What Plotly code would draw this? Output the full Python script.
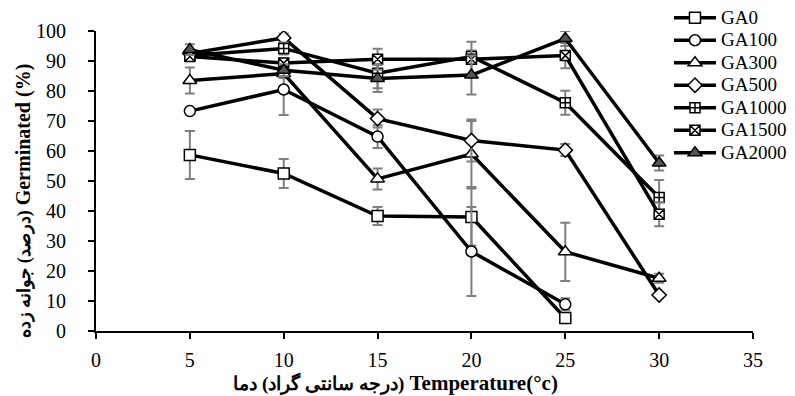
import plotly.graph_objects as go

temps = [5, 10, 15, 20, 25, 30]

series_names = ["GA0", "GA100", "GA300", "GA500", "GA1000", "GA1500", "GA2000"]

ga0 = [58.7, 52.5, 38.3, 38.0, 4.3]
ga0_err = [8.0, 4.8, 3.0, 9.5, 0.8]
ga100 = [73.3, 80.5, 64.8, 26.5, 8.9]
ga100_err = [0.8, 8.5, 3.8, 14.8, 2.0]
ga300 = [83.5, 85.8, 50.7, 59.0, 26.4, 17.6]
ga300_err = [4.3, 1.5, 3.5, 11.0, 9.7, 1.5]
ga500 = [92.5, 97.7, 70.8, 63.5, 60.3, 12.0]
ga500_err = [1.0, 1.5, 3.0, 7.0, 2.0, 0.5]
ga1000 = [91.8, 94.2, 85.9, 91.5, 76.1, 44.5]
ga1000_err = [1.0, 2.0, 5.0, 2.0, 4.0, 5.8]
ga1500 = [91.5, 89.3, 90.6, 90.6, 91.8, 38.9]
ga1500_err = [1.0, 1.5, 3.5, 5.8, 4.2, 4.0]
ga2000 = [93.8, 86.9, 84.2, 85.3, 97.5, 56.0]
ga2000_err = [1.8, 2.0, 4.5, 6.5, 2.5, 2.5]

values = [ga0, ga100, ga300, ga500, ga1000, ga1500, ga2000]
errors = [ga0_err, ga100_err, ga300_err, ga500_err, ga1000_err, ga1500_err, ga2000_err]
symbols = ["square", "circle", "triangle-up", "diamond", "square-cross", "square-x", "triangle-up"]
sizes = [11, 11, 12, 11, 10, 10, 12]
fills = ["white", "white", "white", "white", "white", "white", "#555555"]

fig = go.Figure()
for name, v, e, s, sz, fc in zip(series_names, values, errors, symbols, sizes, fills):
    fig.add_trace(go.Scatter(
        x=temps[:len(v)], y=v,
        name="<span style='font-size:19px'>" + name + "</span>",
        mode="lines+markers",
        line=dict(color="black", width=3.5),
        marker=dict(symbol=s, size=sz, color=fc, line=dict(color="black", width=1.5)),
        error_y=dict(type="data", array=e, visible=True, color="#7f7f7f", thickness=2, width=5),
    ))

serif = "Liberation Serif"
pad_x = "\u00a0" * 11
pad_y = "\u00a0" * 8
fig.update_layout(
    width=795, height=396,
    margin=dict(l=88, r=50, t=2, b=73, autoexpand=False),
    paper_bgcolor="white", plot_bgcolor="white",
    font=dict(family=serif, size=18, color="black"),
    showlegend=True,
    legend=dict(x=0.8721, y=1.0265, xanchor="left", yanchor="top",
                font=dict(family=serif, size=15, color="black"),
                bgcolor="rgba(0,0,0,0)", tracegroupgap=0, itemwidth=42),
    xaxis=dict(range=[0, 35], dtick=5, tick0=0, showgrid=False, zeroline=False,
               automargin=False,
               showline=True, linecolor="black", linewidth=2,
               ticks="outside", ticklen=6, tickwidth=2, tickcolor="black",
               ticklabelstandoff=4,
               tickfont=dict(family=serif, size=20),
               title=dict(text="<b><span style='font-size:19px'>\u200f(درجه سانتی گراد) دما\u200e</span> Temperature(°c)" + pad_x + "</b>",
                          font=dict(family=serif, size=21), standoff=2)),
    yaxis=dict(range=[0, 100], dtick=10, tick0=0, showgrid=False, zeroline=False,
               automargin=False, domain=[0, 300 / 321],
               showline=True, linecolor="black", linewidth=2,
               ticks="outside", ticklen=6, tickwidth=2, tickcolor="black",
               ticklabelstandoff=18,
               tickfont=dict(family=serif, size=20),
               title=dict(text="<b><span style='font-size:18px'>جوانه زده\u200e (درصد)\u200e</span> Germinated (%)" + pad_y + "</b>",
                          font=dict(family=serif, size=20), standoff=0)),
)

fig.write_html("out.html")
